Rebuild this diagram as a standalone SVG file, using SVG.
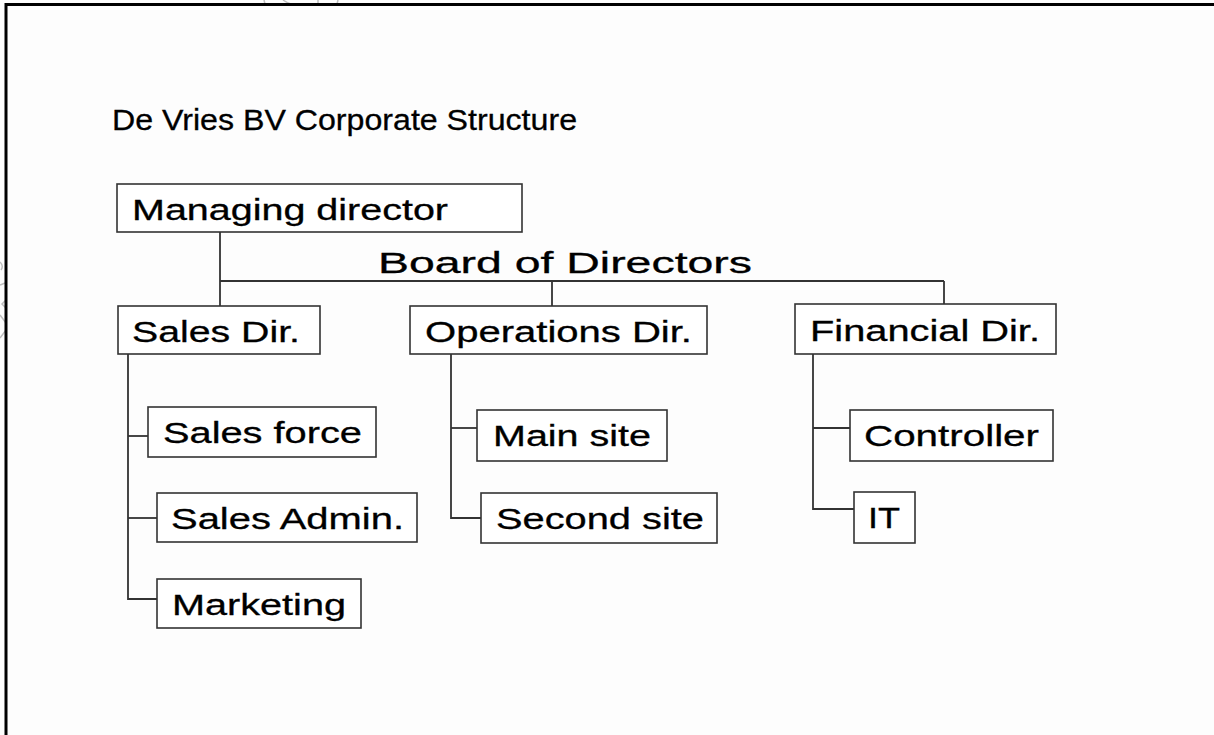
<svg xmlns="http://www.w3.org/2000/svg" width="1214" height="735" viewBox="0 0 1214 735">
  <style>
    .box { fill: #ffffff; stroke: #333333; stroke-width: 1.6; }
    .lbl { font-family: "Liberation Sans", Arial, sans-serif; font-size: 29px; fill: #000000; stroke: #000000; stroke-width: 0.3; }
    .link { fill: none; stroke: #333333; stroke-width: 1.8; }
    .frame { fill: none; stroke: #000000; stroke-width: 3; }
    .ghost { fill: none; stroke: #bdbdbd; stroke-width: 1.5; }
  </style>

  <rect width="1214" height="735" fill="#fdfdfd"/>

  <!-- faint marks along the page edge -->
  <g class="ghost">
    <path d="M264 0 L265 4 M283 0 Q287 3 291 4 M318 0 L318 4 M338 0 L337 4"/>
    <path d="M0 262 Q4 266 1 270 M0 285 L5 283 M6 300 L2 304 L6 308 M0 315 L6 323 M6 330 L0 338"/>
  </g>

  <!-- page frame -->
  <path class="frame" d="M6 735 L6 4.5 L1214 4.5"/>

  <!-- title -->
  <text class="lbl" x="112" y="130" font-size="26" textLength="465" lengthAdjust="spacingAndGlyphs">De Vries BV Corporate Structure</text>

  <!-- connectors -->
  <g id="connectors" class="link">
    <path d="M220 232 L220 306"/>
    <path d="M220 281 L944 281"/>
    <path d="M552 281 L552 306"/>
    <path d="M944 281 L944 304"/>
    <path d="M128 354 L128 599 L157 599"/>
    <path d="M128 436 L148 436"/>
    <path d="M128 518 L157 518"/>
    <path d="M451 354 L451 518 L481 518"/>
    <path d="M451 428 L477 428"/>
    <path d="M813 354 L813 509 L854 509"/>
    <path d="M813 428 L850 428"/>
  </g>

  <text class="lbl" x="378" y="273" font-size="35" textLength="374" lengthAdjust="spacingAndGlyphs">Board of Directors</text>

  <g id="managing-director">
    <rect class="box" x="117" y="184" width="405" height="48"/>
    <text class="lbl" x="132" y="220" textLength="316" lengthAdjust="spacingAndGlyphs">Managing director</text>
  </g>

  <g id="sales-dir">
    <rect class="box" x="118" y="306" width="202" height="48"/>
    <text class="lbl" x="132" y="342" textLength="168" lengthAdjust="spacingAndGlyphs">Sales Dir.</text>
  </g>

  <g id="operations-dir">
    <rect class="box" x="410" y="306" width="297" height="48"/>
    <text class="lbl" x="425" y="342" textLength="267" lengthAdjust="spacingAndGlyphs">Operations Dir.</text>
  </g>

  <g id="financial-dir">
    <rect class="box" x="795" y="304" width="261" height="50"/>
    <text class="lbl" x="810" y="341" textLength="230" lengthAdjust="spacingAndGlyphs">Financial Dir.</text>
  </g>

  <g id="sales-force">
    <rect class="box" x="148" y="407" width="228" height="50"/>
    <text class="lbl" x="163" y="443" textLength="199" lengthAdjust="spacingAndGlyphs">Sales force</text>
  </g>

  <g id="sales-admin">
    <rect class="box" x="157" y="493" width="260" height="49"/>
    <text class="lbl" x="171" y="529" textLength="233" lengthAdjust="spacingAndGlyphs">Sales Admin.</text>
  </g>

  <g id="marketing">
    <rect class="box" x="157" y="579" width="204" height="49"/>
    <text class="lbl" x="172" y="615" textLength="174" lengthAdjust="spacingAndGlyphs">Marketing</text>
  </g>

  <g id="main-site">
    <rect class="box" x="477" y="410" width="190" height="51"/>
    <text class="lbl" x="493" y="446" textLength="158" lengthAdjust="spacingAndGlyphs">Main site</text>
  </g>

  <g id="second-site">
    <rect class="box" x="481" y="493" width="236" height="50"/>
    <text class="lbl" x="496" y="529" textLength="208" lengthAdjust="spacingAndGlyphs">Second site</text>
  </g>

  <g id="controller">
    <rect class="box" x="850" y="410" width="203" height="51"/>
    <text class="lbl" x="864" y="446" textLength="175" lengthAdjust="spacingAndGlyphs">Controller</text>
  </g>

  <g id="it">
    <rect class="box" x="854" y="492" width="61" height="51"/>
    <text class="lbl" x="868" y="528" textLength="32" lengthAdjust="spacingAndGlyphs">IT</text>
  </g>
</svg>
